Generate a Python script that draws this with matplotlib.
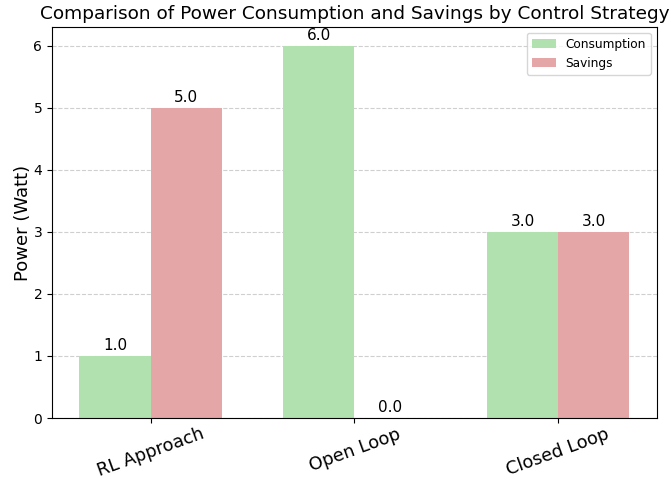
import matplotlib.pyplot as plt
import numpy as np

# Data
strategies = ["RL Approach", "Open Loop", "Closed Loop"]
consumption = [1.0, 6.0, 3.0]
savings = [5.0, 0.0, 3.0]

x = np.arange(len(strategies))
width = 0.35

fig, ax = plt.subplots(figsize=(6.71, 4.8), dpi=100)

bars1 = ax.bar(x - width / 2, consumption, width, label="Consumption", color="#b2e1b0")
bars2 = ax.bar(x + width / 2, savings, width, label="Savings", color="#e4a6a6")

# Value labels above bars
for bars in (bars1, bars2):
    for b in bars:
        h = b.get_height()
        ax.annotate(f"{h:.1f}", xy=(b.get_x() + b.get_width() / 2, h),
                    xytext=(0, 2), textcoords="offset points",
                    ha="center", va="bottom", fontsize=11)

ax.set_title("Comparison of Power Consumption and Savings by Control Strategy", fontsize=13.3)
ax.set_ylabel("Power (Watt)", fontsize=13, labelpad=1)
ax.set_xticks(x)
ax.set_xticklabels(strategies, fontsize=12.8, rotation=20)
ax.tick_params(axis="x", pad=1.5)
ax.yaxis.grid(True, linestyle="--", alpha=0.6)
ax.set_axisbelow(True)
ax.legend(loc="upper right", fontsize=8.7)

fig.subplots_adjust(left=0.0775, right=0.979, top=0.944, bottom=0.129)

plt.savefig("out.png")
